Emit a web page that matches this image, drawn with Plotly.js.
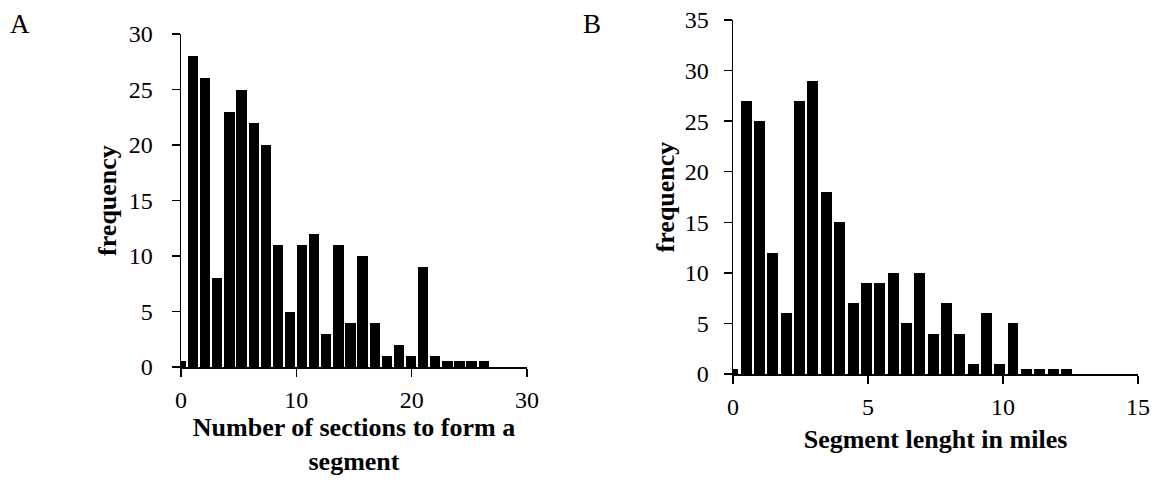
<!DOCTYPE html>
<html>
<head>
<meta charset="utf-8">
<script src="https://cdn.plot.ly/plotly-3.0.1.min.js"></script>
<style>
  html, body { margin: 0; padding: 0; background: #ffffff; }
  #chart { width: 1158px; height: 483px; }
</style>
</head>
<body>
<div id="chart"></div>
<script>
// Panel A: number of sections to form a segment
const sectionsX = [0, 1.05, 2.1, 3.15, 4.2, 5.25, 6.3, 7.35, 8.4, 9.45, 10.5, 11.55, 12.6,
                   13.65, 14.7, 15.75, 16.8, 17.85, 18.9, 19.95, 21.0, 22.05, 23.1, 24.15, 25.2, 26.25];
const sectionsFreq = [0.5, 28, 26, 8, 23, 25, 22, 20, 11, 5, 11, 12, 3,
                      11, 4, 10, 4, 1, 2, 1, 9, 1, 0.5, 0.5, 0.5, 0.5];

// Panel B: segment length in miles
const lengthX = [0, 0.49, 0.99, 1.48, 1.98, 2.47, 2.96, 3.46, 3.95, 4.45, 4.94, 5.43, 5.93,
                 6.42, 6.92, 7.41, 7.9, 8.4, 8.89, 9.39, 9.88, 10.37, 10.87, 11.36, 11.86, 12.35];
const lengthFreq = [0.5, 27, 25, 12, 6, 27, 29, 18, 15, 7, 9, 9, 10,
                    5, 10, 4, 7, 4, 1, 6, 1, 5, 0.5, 0.5, 0.5, 0.5];

const xTicksA = [0, 10, 20, 30];
const yTicksA = [0, 5, 10, 15, 20, 25, 30];
const xTicksB = [0, 5, 10, 15];
const yTicksB = [0, 5, 10, 15, 20, 25, 30, 35];

const W = 1158, H = 483;
const serif = "'Liberation Serif', 'Times New Roman', serif";
const tickFont = {family: serif, size: 24, color: "#000"};
const titleFont = {family: serif, size: 26, color: "#000", weight: "bold"};

const traces = [
  {type: "bar", x: sectionsX, y: sectionsFreq, width: 0.895,
   marker: {color: "#000", line: {width: 0}}, xaxis: "x", yaxis: "y", hoverinfo: "x+y"},
  {type: "bar", x: lengthX, y: lengthFreq, width: 0.407,
   marker: {color: "#000", line: {width: 0}}, xaxis: "x2", yaxis: "y2", hoverinfo: "x+y"}
];

function axisCommon(extra) {
  return Object.assign({
    showgrid: false, zeroline: false, showline: true, linecolor: "#000", linewidth: 1.5,
    ticks: "outside", ticklen: 8, tickwidth: 1.5, tickcolor: "#000",
    tickfont: tickFont, tickmode: "array", automargin: false, fixedrange: true
  }, extra);
}

const layout = {
  width: W, height: H,
  margin: {l: 0, r: 0, t: 0, b: 0},
  paper_bgcolor: "#fff", plot_bgcolor: "#fff",
  showlegend: false, bargap: 0,
  font: {family: serif, color: "#000"},
  xaxis: axisCommon({domain: [181 / W, 527 / W], range: [0, 30], tickvals: xTicksA,
    ticklabelstandoff: 3, anchor: "y",
    title: {text: "Number of sections to form a<br>segment", font: titleFont, standoff: 5}}),
  yaxis: axisCommon({domain: [1 - 367 / H, 1 - 34 / H], range: [0, 30], tickvals: yTicksA,
    ticklabelstandoff: 14, anchor: "x",
    title: {text: "frequency", font: titleFont, standoff: 4}}),
  xaxis2: axisCommon({domain: [733 / W, 1138 / W], range: [0, 15], tickvals: xTicksB,
    ticklabelstandoff: 3, anchor: "y2",
    title: {text: "Segment lenght in miles", font: titleFont, standoff: 10}}),
  yaxis2: axisCommon({domain: [1 - 374 / H, 1 - 20 / H], range: [0, 35], tickvals: yTicksB,
    ticklabelstandoff: 10, anchor: "x2",
    title: {text: "frequency", font: titleFont, standoff: 2}}),
  annotations: [
    {text: "A", x: 20 / W, y: 1 - 24 / H, xref: "paper", yref: "paper", showarrow: false,
     xanchor: "center", yanchor: "middle", font: {family: serif, size: 27, color: "#000"}},
    {text: "B", x: 592 / W, y: 1 - 24 / H, xref: "paper", yref: "paper", showarrow: false,
     xanchor: "center", yanchor: "middle", font: {family: serif, size: 27, color: "#000"}}
  ]
};

Plotly.newPlot("chart", traces, layout, {displayModeBar: false, staticPlot: true});
</script>
</body>
</html>
